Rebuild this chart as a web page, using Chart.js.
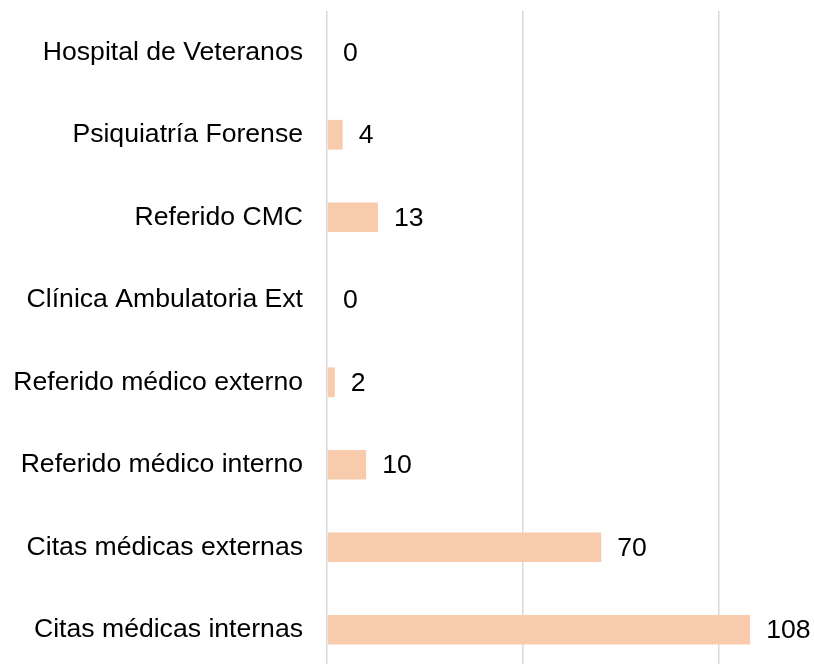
<!DOCTYPE html>
<html>
<head>
<meta charset="utf-8">
<script src="https://cdn.jsdelivr.net/npm/chart.js@4"></script>
<style>
  html, body { margin: 0; padding: 0; background: #fff; overflow: hidden; }
  #wrap { width: 814px; height: 664px; overflow: hidden; }
</style>
</head>
<body>
<div id="wrap"><canvas id="chart" width="814" height="671"></canvas></div>
<script>
// Categories, top to bottom
const categories = [
  "Hospital de Veteranos",
  "Psiquiatría Forense",
  "Referido CMC",
  "Clínica Ambulatoria Ext",
  "Referido médico externo",
  "Referido médico interno",
  "Citas médicas externas",
  "Citas médicas internas",
];
const counts = [0, 4, 13, 0, 2, 10, 70, 108];
const gridValues = [0, 50, 100];

const FONT = "'Liberation Sans', Arial, sans-serif";

// Draws the value next to the end of each bar
const valueLabels = {
  id: "valueLabels",
  afterDatasetsDraw(chart) {
    const ctx = chart.ctx;
    const meta = chart.getDatasetMeta(0);
    ctx.save();
    ctx.font = "26.6px " + FONT;
    ctx.fillStyle = "#000";
    ctx.textAlign = "left";
    ctx.textBaseline = "middle";
    meta.data.forEach((bar, i) => {
      ctx.fillText(String(counts[i]), bar.x + 16, bar.y + 1);
    });
    ctx.restore();
  },
};

new Chart(document.getElementById("chart"), {
  type: "bar",
  data: {
    labels: categories,
    datasets: [
      {
        data: counts,
        backgroundColor: "#F8CBAD",
        borderWidth: 0,
        categoryPercentage: 1,
        barPercentage: 0.36,
      },
    ],
  },
  options: {
    indexAxis: "y",
    responsive: false,
    animation: false,
    layout: { padding: { top: 11, right: 0, left: 0, bottom: 0 } },
    plugins: {
      legend: { display: false },
      tooltip: { enabled: false },
    },
    scales: {
      x: {
        min: 0,
        max: 124.3,
        afterBuildTicks: (scale) => {
          scale.ticks = gridValues.map((v) => ({ value: v }));
        },
        afterFit: (scale) => {
          scale.height = 0;
          scale.paddingLeft = 0;
          scale.paddingRight = 0;
        },
        ticks: { display: false },
        grid: { color: "#D9D9D9", lineWidth: 1.5, drawTicks: false },
        border: { display: false },
      },
      y: {
        afterFit: (scale) => {
          scale.width = 327;
          scale.paddingTop = 0;
          scale.paddingBottom = 0;
        },
        ticks: {
          color: "#000",
          padding: 24,
          font: { family: FONT, size: 26.6 },
        },
        grid: { display: false, drawTicks: false },
        border: { display: false },
      },
    },
  },
  plugins: [valueLabels],
});
</script>
</body>
</html>
